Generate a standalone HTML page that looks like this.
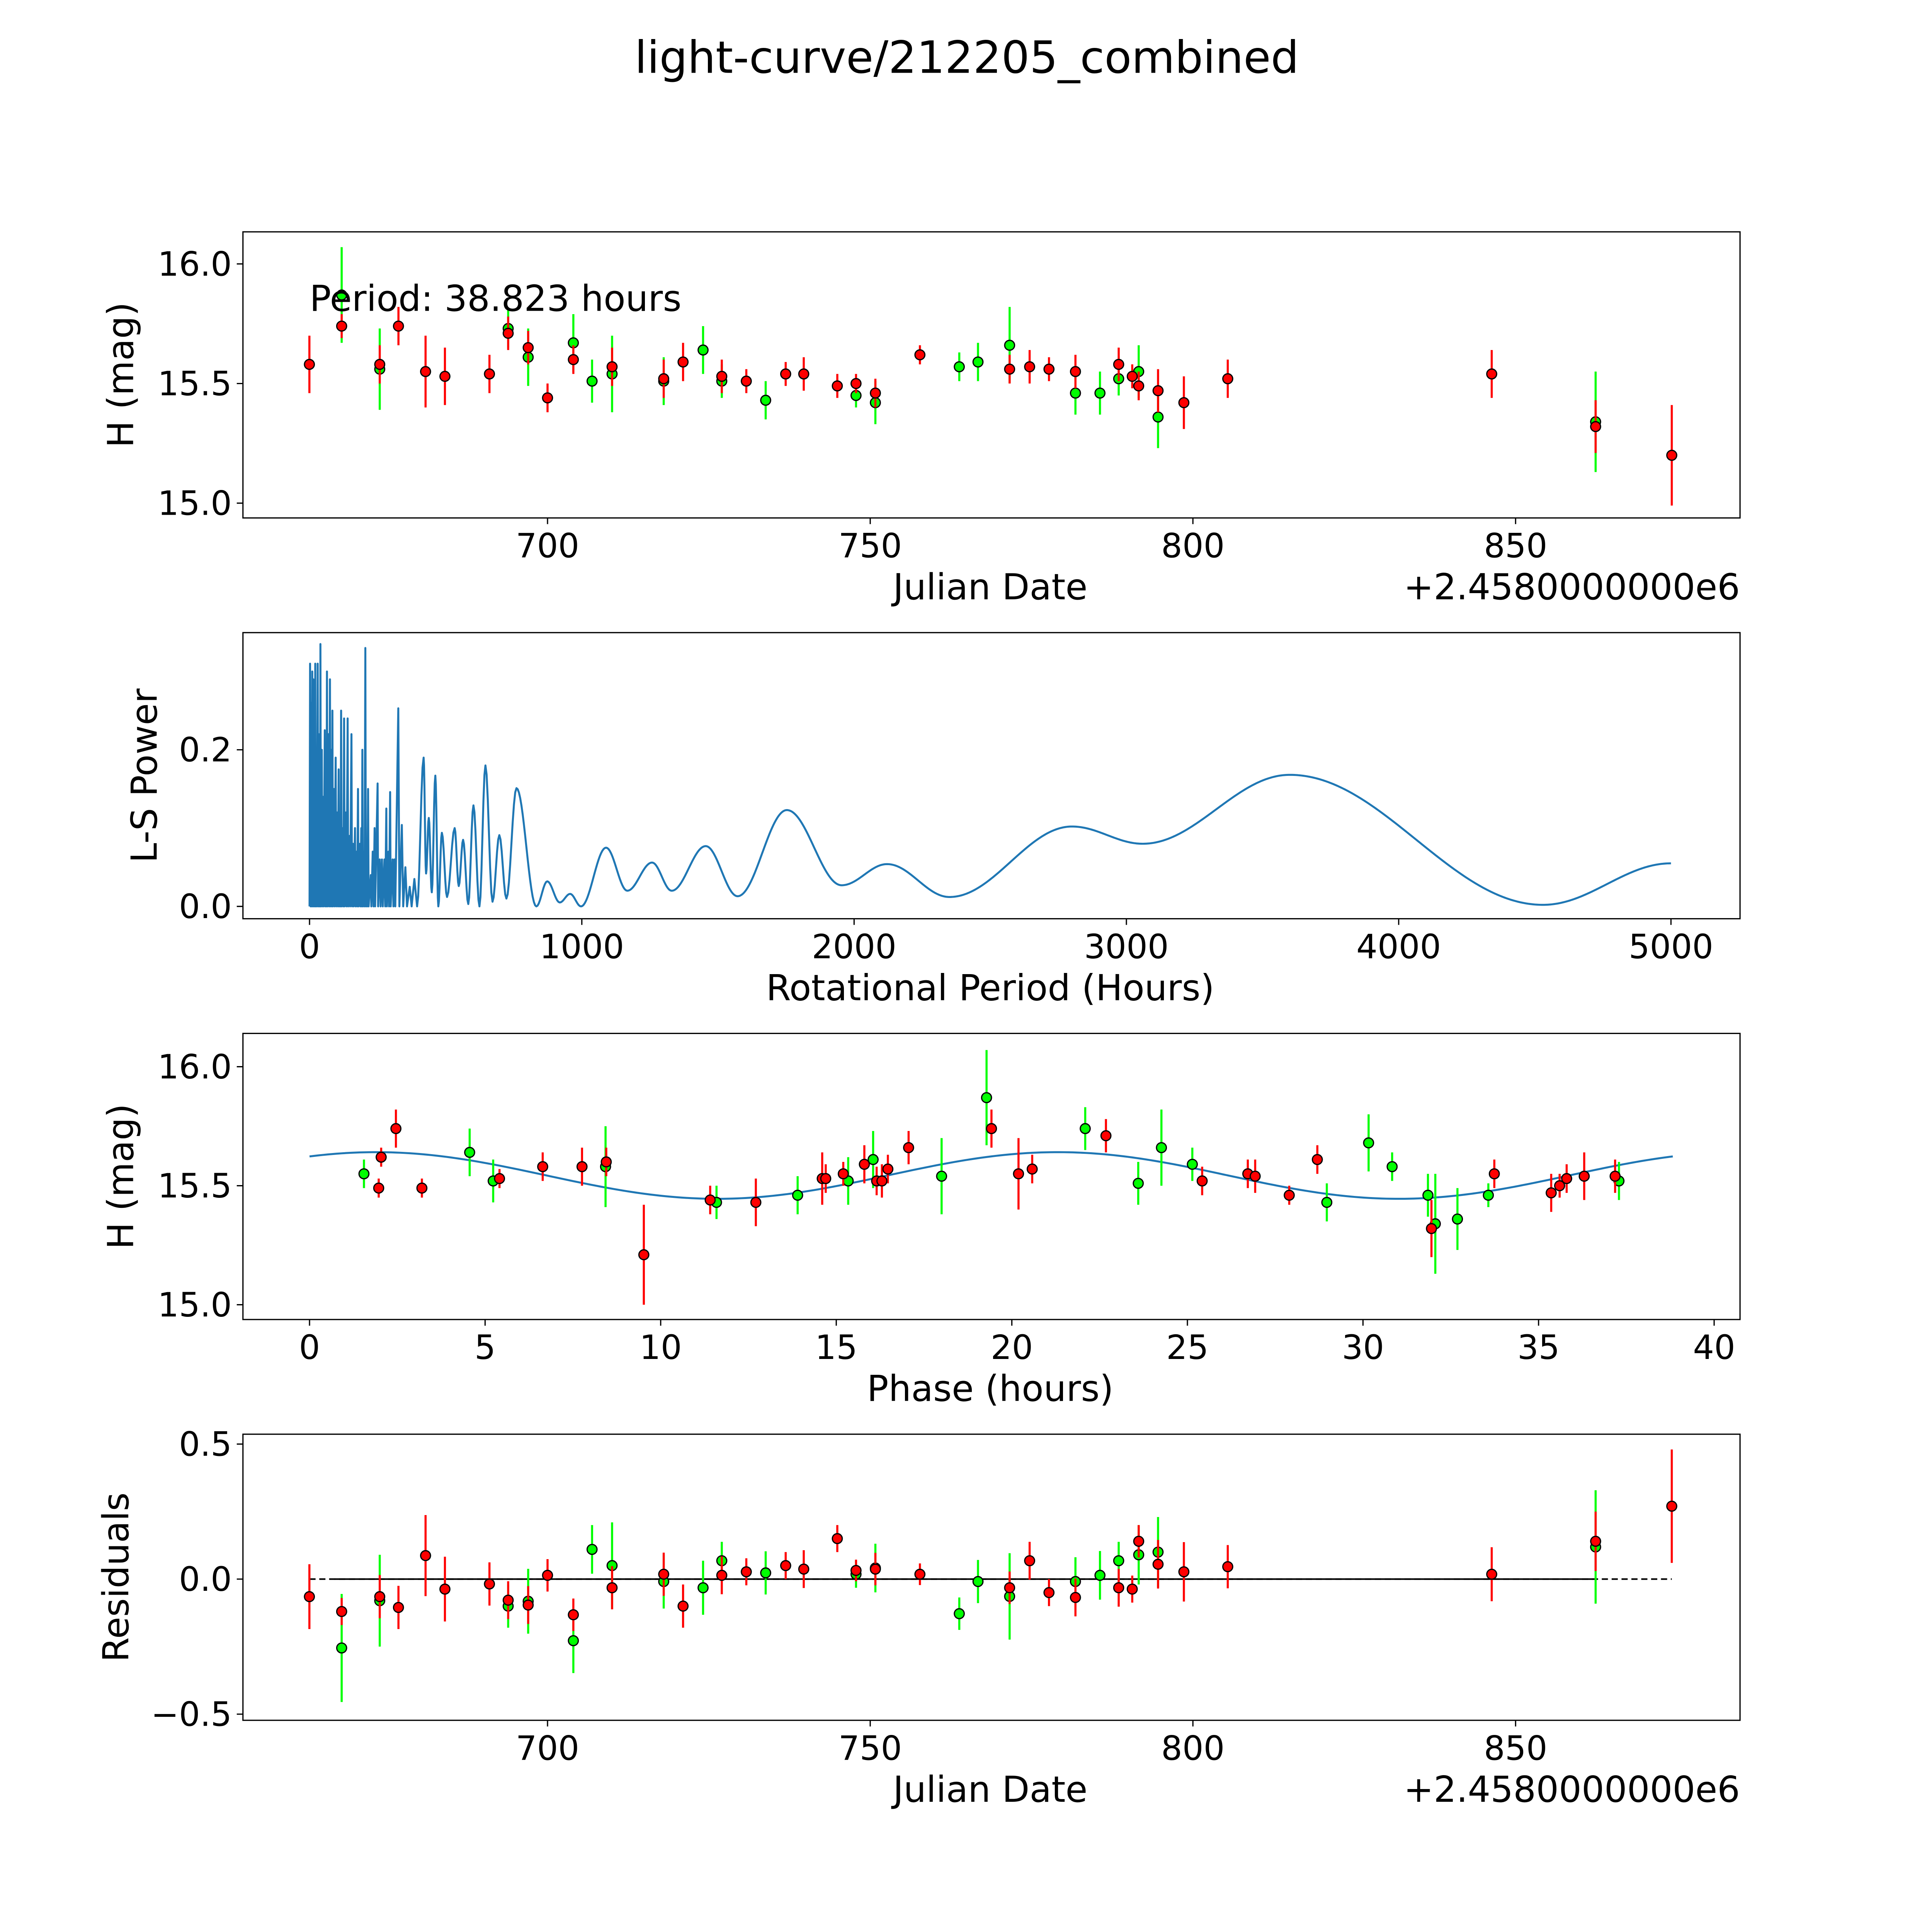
<!DOCTYPE html>
<html><head><meta charset="utf-8"><style>
html,body{margin:0;padding:0;background:#fff;overflow:hidden;}
svg{display:block;font-family:"DejaVu Sans","Liberation Sans",sans-serif;}
</style></head><body>
<svg id="fig" width="5400" height="5400" viewBox="0 0 1692 1692" xmlns="http://www.w3.org/2000/svg">
<rect width="1692" height="1692" fill="#fff"/>
<text x="784" y="59" font-size="36" text-anchor="middle">light-curve/212205_combined</text>
<g id="g1"></g>
<g id="g2"></g>
<g id="g3"></g>
<g id="g4"></g>
</svg>
<script>
// ---- light curve data (JD - 2458000) ----
const jd = [663.1,668.1,668.1,674.0,674.0,676.9,681.1,684.1,691.0,693.9,693.9,697.0,697.0,700.0,704.0,704.0,706.9,710.0,710.0,718.0,718.0,721.0,724.1,727.0,727.0,730.8,733.8,736.9,739.7,744.9,747.8,747.8,750.8,750.8,757.7,763.8,766.7,771.6,771.6,774.7,777.7,781.8,781.8,785.6,788.5,788.5,790.6,791.6,791.6,794.6,794.6,798.6,805.4,846.3,862.4,862.4,874.2];
const mag = [15.58,15.87,15.74,15.56,15.58,15.74,15.55,15.53,15.54,15.73,15.71,15.61,15.65,15.44,15.67,15.60,15.51,15.54,15.57,15.51,15.52,15.59,15.64,15.51,15.53,15.51,15.43,15.54,15.54,15.49,15.45,15.50,15.42,15.46,15.62,15.57,15.59,15.66,15.56,15.57,15.56,15.46,15.55,15.46,15.52,15.58,15.53,15.55,15.49,15.36,15.47,15.42,15.52,15.54,15.34,15.32,15.20];
const magErr = [.12,.2,.05,.17,.08,.08,.15,.12,.08,.08,.07,.12,.07,.06,.12,.06,.09,.16,.08,.1,.08,.08,.1,.07,.07,.05,.08,.05,.07,.05,.05,.04,.09,.06,.04,.06,.08,.16,.06,.07,.05,.09,.07,.09,.07,.07,.05,.11,.06,.13,.09,.11,.08,.1,.21,.11,.21];
const band = ['r','g','r','g','r','r','r','r','r','g','r','g','r','r','g','r','g','g','r','g','r','r','g','g','r','r','g','r','r','r','g','r','g','r','r','g','g','g','r','r','r','g','r','g','g','r','r','g','r','g','r','r','r','r','g','r','r'];
const resid = [-0.065,-0.255,-0.12,-0.08,-0.065,-0.105,0.087,-0.037,-0.018,-0.1,-0.078,-0.082,-0.096,0.014,-0.228,-0.132,0.11,0.05,-0.032,-0.009,0.018,-0.1,-0.032,0.068,0.014,0.027,0.023,0.05,0.037,0.15,0.018,0.032,0.041,0.037,0.018,-0.128,-0.009,-0.064,-0.032,0.068,-0.05,-0.009,-0.068,0.014,0.068,-0.032,-0.037,0.09,0.14,0.1,0.055,0.027,0.046,0.018,0.119,0.14,0.27];
// ---- phase-folded data ----
const phase = [1.55,1.97,2.04,2.46,3.2,4.56,5.23,5.41,6.64,7.76,8.43,8.45,9.52,11.41,11.59,12.71,13.9,14.6,14.7,15.2,15.34,15.8,16.05,16.15,16.3,16.47,17.06,18.0,19.28,19.42,20.19,20.58,22.09,22.68,23.6,24.26,25.14,25.42,26.72,26.93,27.9,28.7,28.97,30.16,30.83,31.85,31.95,32.06,32.69,33.57,33.74,35.36,35.6,35.8,36.3,37.18,37.29];
const phaseMag = [15.55,15.49,15.62,15.74,15.49,15.64,15.52,15.53,15.58,15.58,15.58,15.60,15.21,15.44,15.43,15.43,15.46,15.53,15.53,15.55,15.52,15.59,15.61,15.52,15.52,15.57,15.66,15.54,15.87,15.74,15.55,15.57,15.74,15.71,15.51,15.66,15.59,15.52,15.55,15.54,15.46,15.61,15.43,15.68,15.58,15.46,15.32,15.34,15.36,15.46,15.55,15.47,15.50,15.53,15.54,15.54,15.52];
const phaseErr = [.06,.04,.04,.08,.04,.1,.09,.04,.06,.08,.17,.06,.21,.06,.07,.1,.08,.11,.06,.05,.1,.08,.12,.06,.07,.06,.07,.16,.2,.08,.15,.06,.09,.07,.09,.16,.07,.06,.06,.07,.04,.06,.08,.12,.06,.09,.12,.21,.13,.05,.06,.08,.05,.06,.1,.07,.08];
const phaseBand = ['g','r','r','r','r','g','g','r','r','r','g','r','r','r','g','r','g','r','r','r','g','r','g','r','r','r','r','g','g','r','r','r','g','r','g','g','g','r','r','r','r','r','g','g','g','g','r','g','g','g','r','r','r','r','r','r','g'];
const fitMean = 15.543, fitAmp = 0.098, fitPeak = 1.9, fitHalfPeriod = 19.41, foldPeriod = 38.823;
// ---- periodogram extrema (period hours, power) ----
const lsPeriod = [0,2,4,6,8,10,12,14,16,18,20,21,23,25,27,30,32,34,36,38,39,40,42,45,47,50,52,56,58,61,62,64,66,70,72,75,77,80,82,84,86,90,92,96,98,102,104,107,109,112,114,116,118,122,124,127,129,134,136,140,142,147,149,154,156,160,162,167,169,173,175,178,180,185,187,190,192,194,196,200,202,205,207,210,212,215,217,225,227,232,235,239,241,250,252,258,261,266,269,275,278,282,284,290,292,296,298,305,308,312,315,326,330,339,344,352,358,368,375,385,395,
419,428,438,449,462,473,486,505,533,548,564,583,602,624,646,672,697,723,760,833,873,919,957,997,1089,1167,1258,1330,1455,1572,1753,1954,2121,2350,2800,3060,3600,4530,5000];
const lsPower = [0,0.31,0,0.26,0,0.3,0,0.29,0,0.2,0,0.31,0,0.2,0,0.31,0,0.22,0,0.16,0,0.335,0,0.2,0,0.14,0,0.225,0,0.12,0,0.3,0,0.22,0,0.29,0,0.2,0,0.25,0,0.15,0,0.19,0,0.12,0,0.175,0,0.1,0,0.25,0,0.1,0,0.24,0,0.12,0,0.24,0,0.09,0,0.22,0,0.08,0,0.1,0,0.07,0,0.15,0,0.08,0,0.1,0,0.2,0,0.07,0,0.33,0,0.06,0,0.15,0,0.04,0,0.07,0,0.1,0,0.157,0,0.06,0,0.06,0,0.06,0,0.125,0,0.07,0,0.146,0,0.06,0,0.06,0,0.253,0,0.104,0,0.05,0,0.025,0,0.035,0,
0.19,0.042,0.113,0.018,0.167,0,0.094,0.012,0.1,0.026,0.085,0.003,0.129,0,0.18,0.006,0.091,0.01,0.151,0,0.032,0.005,0.016,0,0.075,0.02,0.056,0.02,0.077,0.013,0.123,0.027,0.054,0.012,0.102,0.08,0.168,0.002,0.055];
const ticks1x = [700,750,800,850];
const ticks1y = [15.0,15.5,16.0];
const ticks2x = [0,1000,2000,3000,4000,5000];
const ticks2y = [0.0,0.2];
const ticks3x = [0,5,10,15,20,25,30,35,40];
const ticks4y = [-0.5,0.0,0.5];

const NS = 'http://www.w3.org/2000/svg';
function mk(parent, tag, attrs){const e=document.createElementNS(NS,tag);for(const k in attrs)e.setAttribute(k,attrs[k]);parent.appendChild(e);return e;}
function lin(d0,d1,p0,p1){return v=>p0+(v-d0)*(p1-p0)/(d1-d0);}
const L=197,R=1411;
const xJD=lin(700,850,444,1229);

function frame(g,top,bot,xs,xt,fmtx,ys,yt,fmty){
  const fr=mk(g,'rect',{x:L,y:top,width:R-L,height:bot-top,fill:'none',stroke:'#000','stroke-width':1});
  
  
  xt.forEach(v=>{const x=xs(v);
    const t=mk(g,'line',{x1:x,x2:x,y1:bot,y2:bot+5,stroke:'#000','stroke-width':1});
    
    
    const l=mk(g,'text',{x:x,y:bot+32,'font-size':27,'text-anchor':'middle'});l.textContent=fmtx(v);
    
    
  });
  yt.forEach(v=>{const y=ys(v);
    const t=mk(g,'line',{x1:L-5,x2:L,y1:y,y2:y,stroke:'#000','stroke-width':1});
    
    
    const l=mk(g,'text',{x:L-9,y:y+9.5,'font-size':27,'text-anchor':'end'});l.textContent=fmty(v);
    
    
  });
}
function label(g,text,x,y,rot,name,anchor){
  const t=mk(g,'text',{x:x,y:y,'font-size':29,'text-anchor':anchor||'middle'});
  if(rot)t.setAttribute('transform','rotate(-90 '+x+' '+y+')');
  t.textContent=text;
  
  
  return t;
}
function points(g,xs,ys,xv,yv,ev,bv){
  ['g','r'].forEach(c=>{
    const col=c==='g'?'#00ff00':'#ff0000';
    for(let i=0;i<xv.length;i++){ if(bv[i]!==c)continue;
      const x=xs(xv[i]);
      const eb=mk(g,'line',{x1:x,x2:x,y1:ys(yv[i]-ev[i]),y2:ys(yv[i]+ev[i]),stroke:col,'stroke-width':1.7});
      
      
    }
    for(let i=0;i<xv.length;i++){ if(bv[i]!==c)continue;
      const p=mk(g,'circle',{cx:xs(xv[i]),cy:ys(yv[i]),r:4,fill:col,stroke:'#000','stroke-width':1});
      
      
    }
  });
}
const f1=v=>v.toFixed(1), f0=v=>String(v);
const minus=v=>(v<0?'\u2212':'')+Math.abs(v).toFixed(1);

// Panel 1
const g1=document.getElementById('g1');
const y1=lin(15.0,16.0,408,214);
frame(g1,188,420,xJD,ticks1x,f0,y1,ticks1y,f1);
points(g1,xJD,y1,jd,mag,magErr,band);
const pt=mk(g1,'text',{x:251,y:252,'font-size':29});pt.textContent='Period: 38.823 hours';


label(g1,'H (mag)',108,304,true,'y-axis-title');
label(g1,'Julian Date',803,486,false,'x-axis-title');
label(g1,'+2.4580000000e6',1411,486,false,'x-offset-label','end');

// Panel 2
const g2=document.getElementById('g2');
const x2=lin(0,5000,251,1355), y2=lin(0,0.2,735,608);
frame(g2,513,745,x2,ticks2x,f0,y2,ticks2y,f1);
let d='M'+x2(lsPeriod[0])+' '+y2(lsPower[0]);
for(let i=1;i<lsPeriod.length;i++){
  if(lsPeriod[i]<=395){ d+=' L'+x2(lsPeriod[i]).toFixed(2)+' '+y2(lsPower[i]).toFixed(2); continue; }
  const p0=lsPeriod[i-1],p1=lsPeriod[i],v0=lsPower[i-1],v1=lsPower[i];
  const n=Math.max(6,Math.round((x2(p1)-x2(p0))));
  for(let k=1;k<=n;k++){const t=k/n, s=(1-Math.cos(Math.PI*t))/2;
    d+=' L'+x2(p0+(p1-p0)*t).toFixed(2)+' '+y2(v0+(v1-v0)*s).toFixed(2);}
}
const ls=mk(g2,'path',{d:d,fill:'none',stroke:'#1f77b4','stroke-width':1.6,'stroke-linejoin':'round'});


label(g2,'L-S Power',127,629,true,'y-axis-title');
label(g2,'Rotational Period (Hours)',803,811,false,'x-axis-title');

// Panel 3
const g3=document.getElementById('g3');
const x3=lin(0,40,251,1390), y3=lin(15.0,16.0,1058,865);
frame(g3,838,1070,x3,ticks3x,f0,y3,ticks1y,f1);
let dm='';
for(let k=0;k<=300;k++){const ph=foldPeriod*k/300;
  const m=fitMean+fitAmp*Math.cos(2*Math.PI*(ph-fitPeak)/fitHalfPeriod);
  dm+=(k?' L':'M')+x3(ph).toFixed(2)+' '+y3(m).toFixed(2);}
const fit=mk(g3,'path',{d:dm,fill:'none',stroke:'#1f77b4','stroke-width':1.6});


points(g3,x3,y3,phase,phaseMag,phaseErr,phaseBand);
label(g3,'H (mag)',108,954,true,'y-axis-title');
label(g3,'Phase (hours)',803,1136,false,'x-axis-title');

// Panel 4
const g4=document.getElementById('g4');
const y4=lin(-0.5,0.5,1390,1171);
frame(g4,1163,1395,xJD,ticks1x,f0,y4,ticks4y,minus);
const zd=mk(g4,'line',{x1:xJD(jd[0]),x2:xJD(jd[jd.length-1]),y1:y4(0),y2:y4(0),stroke:'#000','stroke-width':1.3,'stroke-dasharray':'5 3'});


const zs=mk(g4,'line',{x1:xJD(667),x2:xJD(862.4),y1:y4(0),y2:y4(0),stroke:'#000','stroke-width':1.3});


points(g4,xJD,y4,jd,resid,magErr,band);
label(g4,'Residuals',104,1279,true,'y-axis-title');
label(g4,'Julian Date',803,1461,false,'x-axis-title');
label(g4,'+2.4580000000e6',1411,1461,false,'x-offset-label','end');
</script>
</body></html>
